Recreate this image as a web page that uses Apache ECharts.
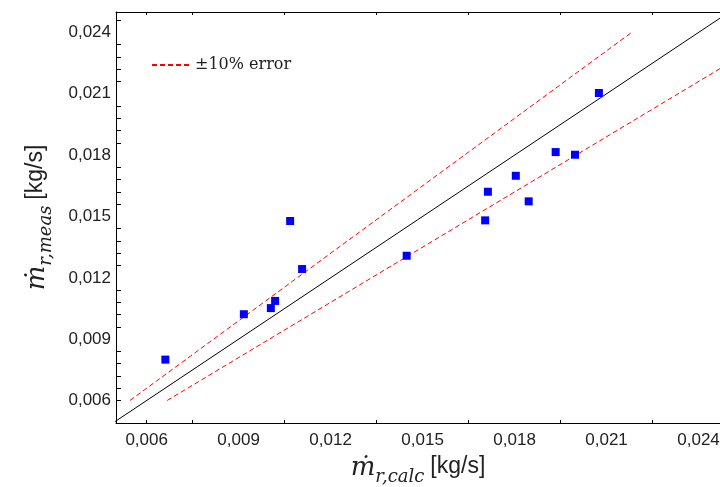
<!DOCTYPE html>
<html>
<head>
    <meta charset="utf-8" />
    <title></title>
    <script src="https://cdn.jsdelivr.net/npm/echarts@6/dist/echarts.min.js"></script>
</head>
<body style="margin:0;">
    <div id="main" style="width: 720px;height:487px;"></div>
    <script type="text/javascript">
        // measured vs calculated refrigerant mass flow [kg/s]
        var calcFlow = [0.00661, 0.00917, 0.01005, 0.01019, 0.01068, 0.01107, 0.01448,
                        0.01704, 0.01713, 0.01804, 0.01846, 0.01934, 0.01997, 0.02075];
        var measFlow = [0.00800, 0.01022, 0.01052, 0.01087, 0.01478, 0.01243, 0.01308,
                        0.01481, 0.01621, 0.01699, 0.01574, 0.01815, 0.01802, 0.02104];

        // reference lines: y = x and +/-10 %
        var parityLine = [[0.0049, 0.0049], [0.025, 0.025]];
        var upperLine = [[0.005455, 0.006], [0.021818, 0.024]];
        var lowerLine = [[0.006667, 0.006], [0.026667, 0.024]];

        var xLabels = [0.006, 0.009, 0.012, 0.015, 0.018, 0.021, 0.024];
        var xTicks = [0.006, 0.0075, 0.0105, 0.0135, 0.0165, 0.0195, 0.0225];
        var yLabels = [0.006, 0.009, 0.012, 0.015, 0.018, 0.021, 0.024];
        var yTicks = [0.006, 0.0066, 0.0072, 0.0078, 0.0084, 0.0096, 0.0102, 0.0108, 0.0114,
                      0.0126, 0.0132, 0.0138, 0.0144, 0.0156, 0.0162, 0.0168, 0.0174,
                      0.0186, 0.0192, 0.0198, 0.0204, 0.0216, 0.0222, 0.0228, 0.0234, 0.0246];

        var points = calcFlow.map(function (v, i) { return [v, measFlow[i]]; });

        function fmt(v) {
            return v.toFixed(3).replace('.', ',');
        }

        var nameRich = {
            m: { fontFamily: 'DejaVu Serif', fontStyle: 'italic', fontSize: 26, lineHeight: 30, verticalAlign: 'top', color: '#222' },
            s: { fontFamily: 'DejaVu Serif', fontStyle: 'italic', fontSize: 18, lineHeight: 18, padding: [14, 0, 0, 0], color: '#222' },
            u: { fontFamily: 'Liberation Sans', fontSize: 23, lineHeight: 30, verticalAlign: 'top', padding: [0, 0, 0, 6], color: '#222' }
        };

        var myChart = echarts.init(document.getElementById('main'));

        myChart.setOption({
            backgroundColor: '#fff',
            animation: false,
            grid: { left: 116, right: 0, top: 12, bottom: 64, outerBoundsMode: 'none' },
            legend: {
                left: 146,
                top: 52,
                itemWidth: 38,
                itemHeight: 14,
                data: ['±10% error'],
                itemStyle: { opacity: 0 },
                textStyle: { fontFamily: 'DejaVu Serif', fontSize: 16, color: '#222' }
            },
            xAxis: [{
                type: 'value',
                min: 0.005,
                max: 0.0247,
                name: '{m|ṁ}{s|r,calc}{u|[kg/s]}',
                nameLocation: 'middle',
                nameGap: 27,
                nameTextStyle: { rich: nameRich },
                axisLine: { lineStyle: { color: '#000', width: 1 } },
                axisTick: { inside: true, length: 3, customValues: xTicks, lineStyle: { color: '#000' } },
                axisLabel: {
                    customValues: xLabels,
                    margin: 9,
                    fontFamily: 'Liberation Sans',
                    fontSize: 17,
                    color: '#222',
                    formatter: fmt
                },
                splitLine: { show: false }
            }, {
                type: 'value',
                position: 'top',
                min: 0.005,
                max: 0.0247,
                axisLine: { lineStyle: { color: '#000', width: 1 } },
                axisTick: { inside: true, length: 3, customValues: xTicks, lineStyle: { color: '#000' } },
                axisLabel: { show: false },
                splitLine: { show: false }
            }],
            yAxis: {
                type: 'value',
                min: 0.0049,
                max: 0.025,
                name: '{m|ṁ}{s|r,meas}{u|[kg/s]}',
                nameLocation: 'middle',
                nameRotate: 90,
                nameGap: 62,
                nameTextStyle: { rich: nameRich },
                axisLine: { show: true, lineStyle: { color: '#000', width: 1 } },
                axisTick: { show: true, inside: true, length: 5, customValues: yTicks, lineStyle: { color: '#000' } },
                axisLabel: {
                    customValues: yLabels,
                    margin: 5,
                    fontFamily: 'Liberation Sans',
                    fontSize: 17,
                    color: '#222',
                    formatter: fmt
                },
                splitLine: { show: false }
            },
            series: [{
                name: 'parity',
                type: 'line',
                data: parityLine,
                symbol: 'none',
                silent: true,
                lineStyle: { color: '#000', width: 1 }
            }, {
                name: '±10% error',
                type: 'line',
                data: upperLine,
                symbol: 'none',
                silent: true,
                itemStyle: { color: '#ff0000' },
                lineStyle: { color: '#ff0000', width: 1, type: [5, 3] }
            }, {
                name: '±10% error',
                type: 'line',
                data: lowerLine,
                symbol: 'none',
                silent: true,
                itemStyle: { color: '#ff0000' },
                lineStyle: { color: '#ff0000', width: 1, type: [5, 3] }
            }, {
                name: 'meas',
                type: 'scatter',
                data: points,
                symbol: 'rect',
                symbolSize: 8,
                z: 5,
                itemStyle: { color: '#0000ff', opacity: 1 }
            }]
        });
    </script>
</body>
</html>
